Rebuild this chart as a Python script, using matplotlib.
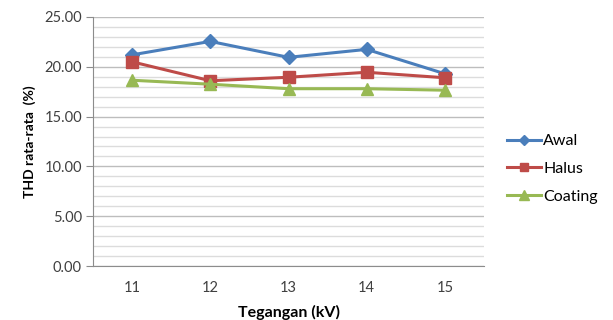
import numpy as np
import matplotlib.pyplot as plt
from matplotlib.ticker import MultipleLocator, FormatStrFormatter

plt.rcParams['font.family'] = ['Lato', 'DejaVu Sans']

tegangan = ['11', '12', '13', '14', '15']
awal = [21.2, 22.55, 20.95, 21.75, 19.3]
halus = [20.5, 18.6, 18.95, 19.45, 18.9]
coating = [18.65, 18.25, 17.8, 17.8, 17.65]

fig = plt.figure(figsize=(6.13, 3.2), dpi=100)
ax = fig.add_axes([93 / 613, 1 - 266 / 320, 391 / 613, 249 / 320])

x = np.arange(len(tegangan))
ax.plot(x, awal, color='#4A7EBB', lw=2.2, marker='D', ms=7, label='Awal')
ax.plot(x, halus, color='#BE4B48', lw=2.2, marker='s', ms=8, label='Halus')
ax.plot(x, coating, color='#98B954', lw=2.2, marker='^', ms=9, label='Coating')

ax.set_xlim(-0.5, len(tegangan) - 0.5)
ax.set_ylim(0, 25)
ax.set_xticks(x)
ax.set_xticklabels(tegangan)
ax.yaxis.set_major_locator(MultipleLocator(5))
ax.yaxis.set_minor_locator(MultipleLocator(1))
ax.yaxis.set_major_formatter(FormatStrFormatter('%.2f'))
ax.grid(axis='y', which='major', color='#bdbdbd', lw=1.0)
ax.grid(axis='y', which='minor', color='#dcdcdc', lw=1.0)
ax.set_axisbelow(True)

for s in ['top', 'right']:
    ax.spines[s].set_visible(False)
ax.spines['left'].set_color('#8c8c8c')
ax.spines['bottom'].set_color('#8c8c8c')
ax.tick_params(axis='y', which='major', length=5, color='#8c8c8c', labelsize=10.5, colors='#404040', pad=3)
ax.tick_params(axis='y', which='minor', length=0)
ax.tick_params(axis='x', length=0, labelsize=10.5, colors='#404040', pad=11)

ax.set_ylabel('THD rata-rata  (%)', fontsize=10, fontweight='bold', labelpad=6)
ax.set_xlabel('Tegangan (kV)', fontsize=11.5, fontweight='bold', labelpad=7)

ax.legend(loc='center left', bbox_to_anchor=(1.035, 0.39), frameon=False, fontsize=11.5,
          handlelength=2.1, handletextpad=0.15, labelspacing=0.85, markerscale=0.8,
          borderaxespad=0.2)

fig.savefig('out.png', dpi=100)
